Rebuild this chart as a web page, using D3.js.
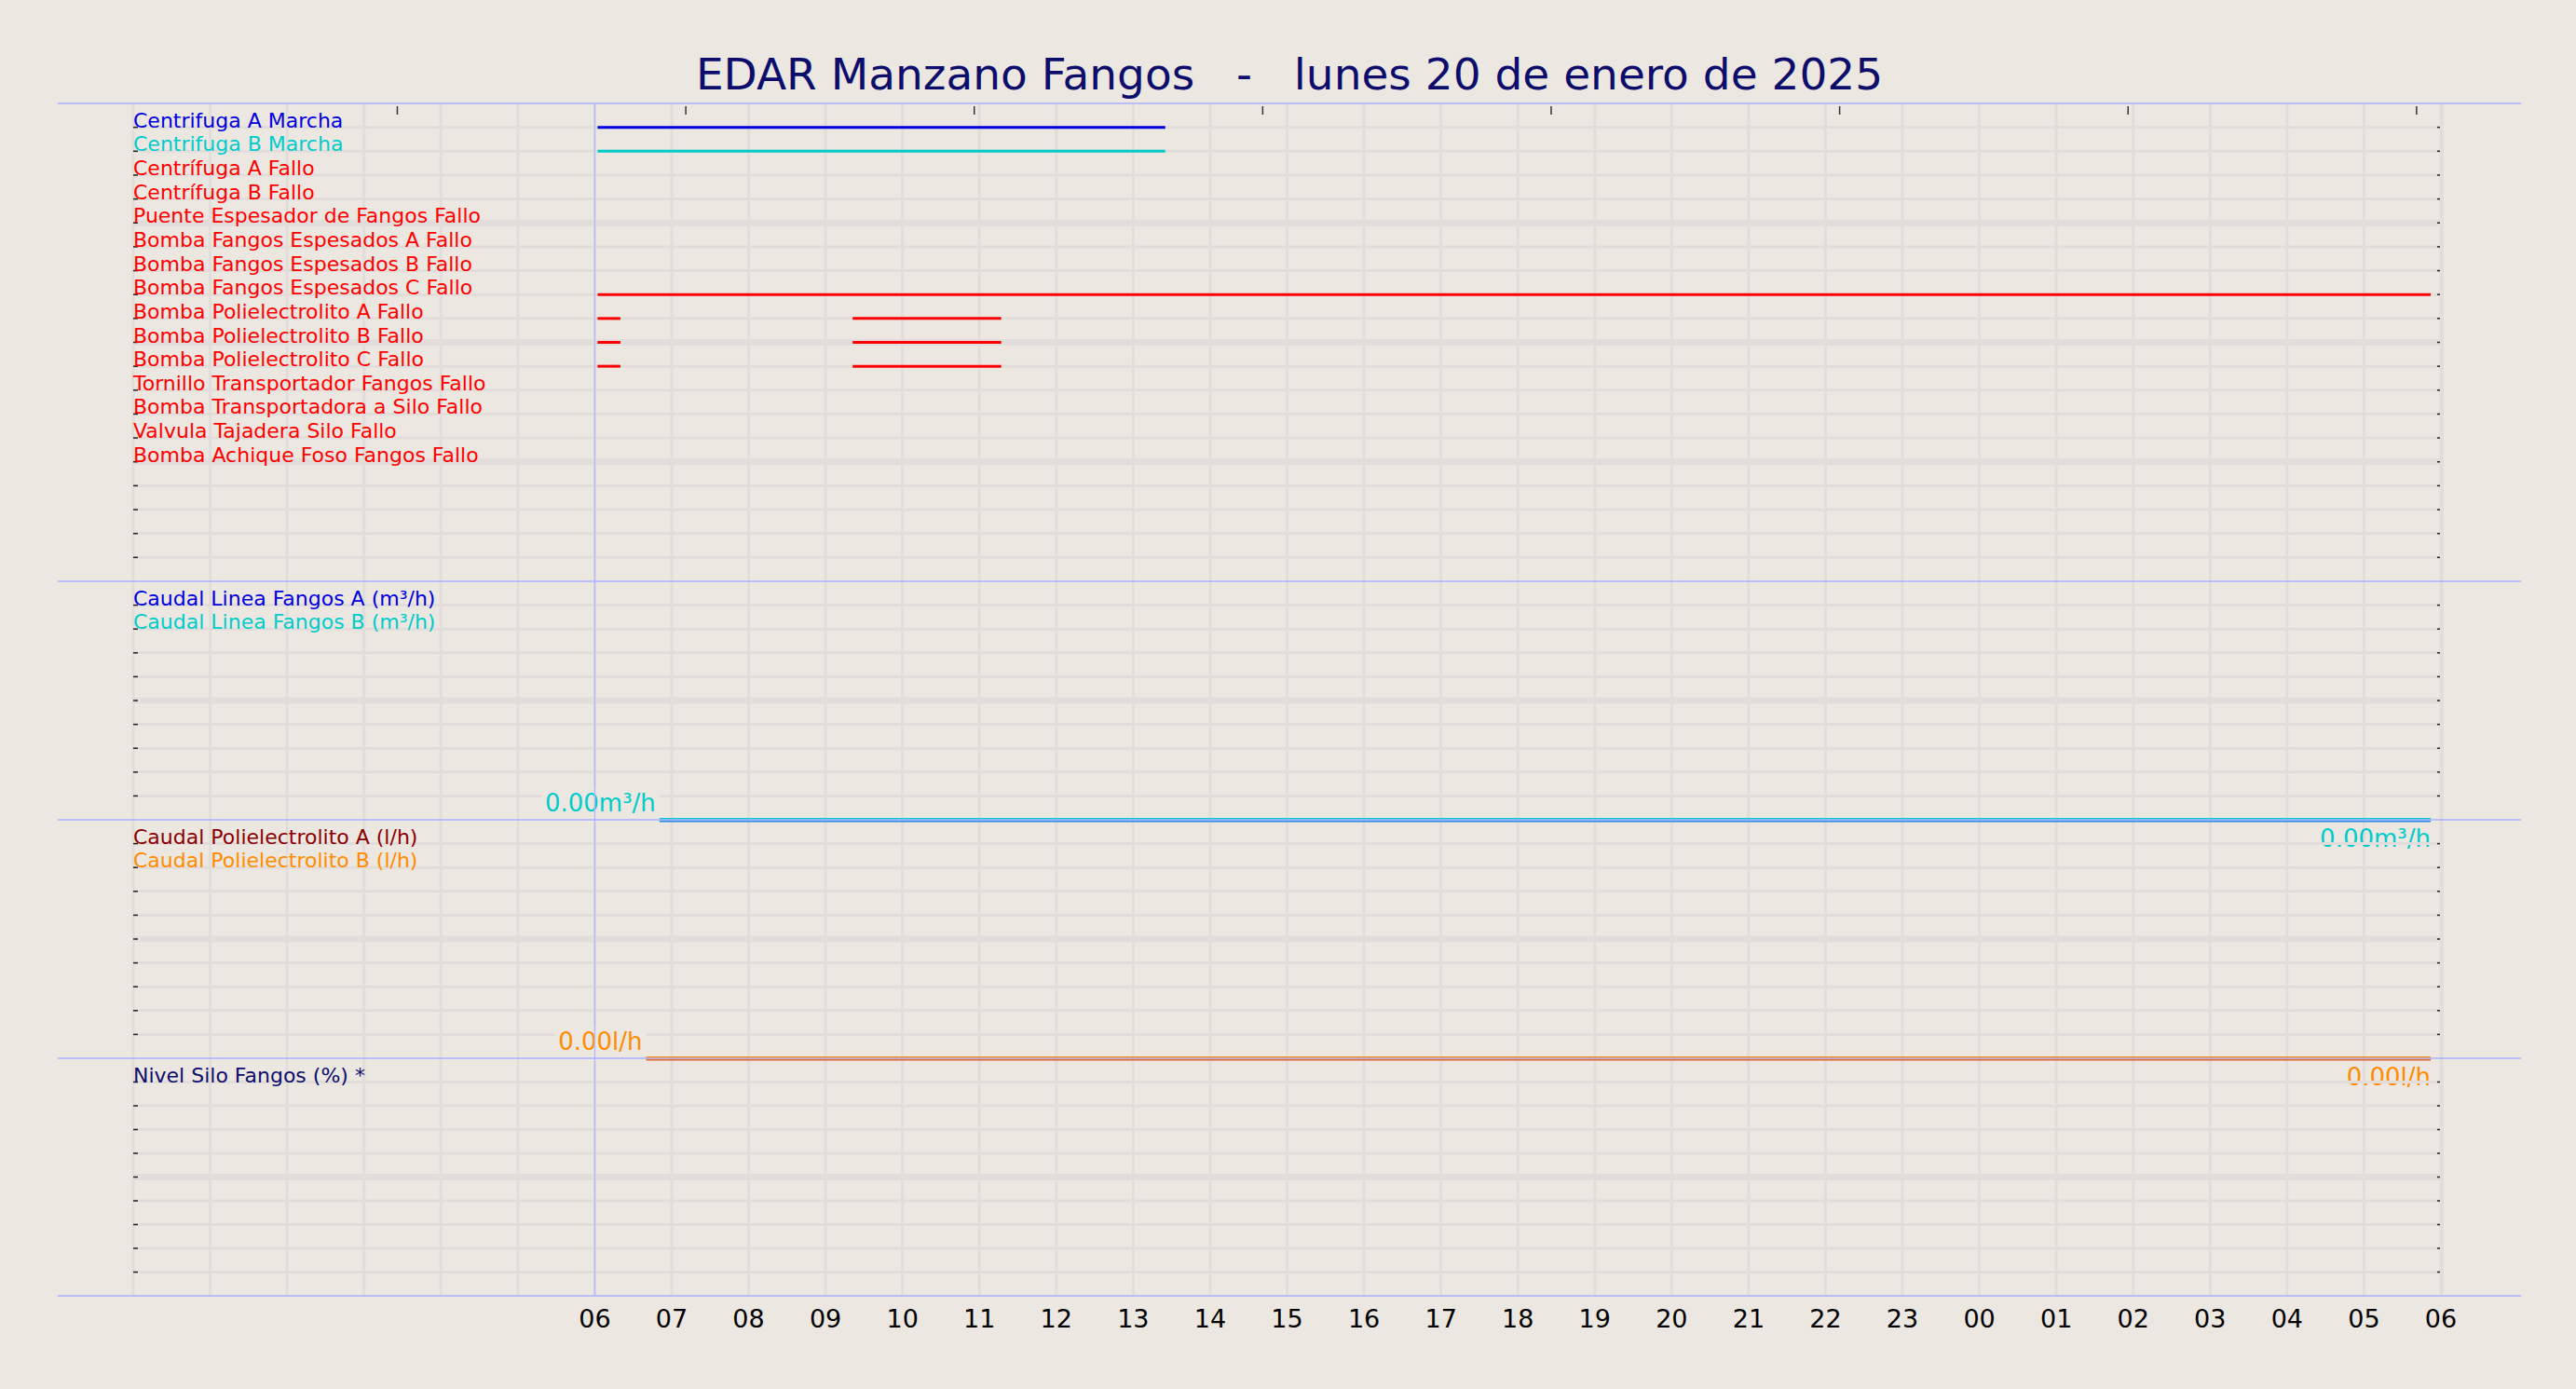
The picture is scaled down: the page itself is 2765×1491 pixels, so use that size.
<!DOCTYPE html>
<html><head><meta charset="utf-8">
<script src="https://cdn.jsdelivr.net/npm/d3@7"></script>
<style>body{margin:0;background:#ece7e1}svg{display:block;font-family:"DejaVu Sans",sans-serif}</style>
</head><body><svg id="c" width="2765" height="1491"></svg>
<script>
const title = "EDAR Manzano Fangos   -   lunes 20 de enero de 2025";
const digitalLabels = ["Centrifuga A Marcha","Centrifuga B Marcha","Centrífuga A Fallo","Centrífuga B Fallo","Puente Espesador de Fangos Fallo","Bomba Fangos Espesados A Fallo","Bomba Fangos Espesados B Fallo","Bomba Fangos Espesados C Fallo","Bomba Polielectrolito A Fallo","Bomba Polielectrolito B Fallo","Bomba Polielectrolito C Fallo","Tornillo Transportador Fangos Fallo","Bomba Transportadora a Silo Fallo","Valvula Tajadera Silo Fallo","Bomba Achique Foso Fangos Fallo"];
const digitalColors = ["#0000e0","#00cccc","#ff0000","#ff0000","#ff0000","#ff0000","#ff0000","#ff0000","#ff0000","#ff0000","#ff0000","#ff0000","#ff0000","#ff0000","#ff0000"];
// active intervals [row, start, end]
const digitalOn = [
 [0,"2025-01-20T06:00","2025-01-20T13:25"],
 [1,"2025-01-20T06:00","2025-01-20T13:25"],
 [7,"2025-01-20T06:00","2025-01-21T05:52"],
 [8,"2025-01-20T06:00","2025-01-20T06:20"],
 [8,"2025-01-20T09:19","2025-01-20T11:17"],
 [9,"2025-01-20T06:00","2025-01-20T06:20"],
 [9,"2025-01-20T09:19","2025-01-20T11:17"],
 [10,"2025-01-20T06:00","2025-01-20T06:20"],
 [10,"2025-01-20T09:19","2025-01-20T11:17"]];
const flowLabels = ["Caudal Linea Fangos A (m³/h)","Caudal Linea Fangos B (m³/h)"];
const flowColors = ["#0000e0","#00cccc"];
const flowTimes = ["2025-01-20T06:00","2025-01-21T05:52"];
const flowA = [0,0], flowB = [0,0];
const polyLabels = ["Caudal Polielectrolito A (l/h)","Caudal Polielectrolito B (l/h)"];
const polyColors = ["#8b0000","#ff8c00"];
const polyA = [0,0], polyB = [0,0];
const siloLabels = ["Nivel Silo Fangos (%) *"];
const topMarks = ["2025-01-20T03:26","2025-01-20T07:11","2025-01-20T10:56","2025-01-20T14:41","2025-01-20T18:26","2025-01-20T22:11","2025-01-21T01:56","2025-01-21T05:41"];

const P = d3.timeParse("%Y-%m-%dT%H:%M");
const svg = d3.select("#c");
const L=143, R=2620;
const x = d3.scaleTime().domain([P("2025-01-20T00:00"),P("2025-01-21T06:00")]).range([L,R]);
const bounds=[111,624,880,1136,1391];
const rowsN=[20,10,10,10];
const grid="#e2dddb";

svg.append("text").attr("x",1384).attr("y",96).attr("text-anchor","middle").attr("font-size",47).attr("fill","#0d0d6b").style("white-space","pre").text(title);

// vertical gridlines
const hours = d3.timeHour.every(1).range(x.domain()[0], d3.timeHour.offset(x.domain()[1],1));
svg.append("g").selectAll("line").data(hours).join("line")
 .attr("x1",d=>x(d)).attr("x2",d=>x(d)).attr("y1",bounds[0]).attr("y2",bounds[4])
 .attr("stroke",grid).attr("stroke-width",3);

const panels=[];
for(let p=0;p<4;p++){
  const y0=bounds[p], y1=bounds[p+1], n=rowsN[p], h=(y1-y0)/n;
  const g=svg.append("g");
  const ks=d3.range(1,n);
  g.selectAll("line.h").data(ks).join("line")
   .attr("x1",L).attr("x2",R).attr("y1",k=>y0+k*h).attr("y2",k=>y0+k*h)
   .attr("stroke",grid).attr("stroke-width",k=>k%5===0?7:3);
  g.selectAll("line.tl").data(ks).join("line").attr("x1",L).attr("x2",L+5).attr("y1",k=>y0+k*h).attr("y2",k=>y0+k*h).attr("stroke","#222").attr("stroke-width",1.5);
  g.selectAll("line.tr").data(ks).join("line").attr("x1",R-4).attr("x2",R+1).attr("y1",k=>y0+k*h).attr("y2",k=>y0+k*h).attr("stroke","#222").attr("stroke-width",1.5);
  panels.push({y0,y1,h,g,y:d3.scaleLinear().domain([0,100]).range([y1,y0])});
}
svg.append("line").attr("x1",R+1).attr("x2",R+1).attr("y1",bounds[0]).attr("y2",bounds[4]).attr("stroke",grid).attr("stroke-width",4);
svg.append("g").selectAll("line").data(bounds).join("line").attr("x1",62).attr("x2",2706).attr("y1",d=>d).attr("y2",d=>d).attr("stroke","#aab0ff").attr("stroke-width",1.5);
svg.append("line").attr("x1",x(P("2025-01-20T06:00"))).attr("x2",x(P("2025-01-20T06:00"))).attr("y1",bounds[0]).attr("y2",bounds[4]).attr("stroke","#b8b8ff").attr("stroke-width",1.5);
svg.append("g").selectAll("line").data(topMarks).join("line").attr("x1",d=>x(P(d))).attr("x2",d=>x(P(d))).attr("y1",114).attr("y2",123).attr("stroke","#333").attr("stroke-width",1.5);

function labels(p,arr,cols){
  const pp=panels[p];
  pp.g.selectAll("text.l").data(arr).join("text").attr("x",L).attr("y",(d,i)=>pp.y0+(i+1)*pp.h)
   .attr("font-size",22).attr("fill",(d,i)=>cols[i]).text(d=>d);
}
labels(0,digitalLabels,digitalColors);
const p0=panels[0];
svg.append("g").selectAll("line").data(digitalOn).join("line")
 .attr("x1",d=>x(P(d[1]))+3).attr("x2",d=>x(P(d[2]))).attr("y1",d=>p0.y0+(d[0]+1)*p0.h).attr("y2",d=>p0.y0+(d[0]+1)*p0.h)
 .attr("stroke",d=>digitalColors[d[0]]).attr("stroke-width",3);

labels(1,flowLabels,flowColors);
labels(2,polyLabels,polyColors);
labels(3,siloLabels,["#0d0d6b"]);

function analog(p,series,cols,lab,labCol){
  const pp=panels[p];
  const line=d3.line().x((d,i)=>x(P(flowTimes[i]))).y(d=>pp.y(d));
  series.forEach((s,j)=>{
    pp.g.append("path").attr("d",line(s)).attr("fill","none").attr("stroke",cols[j]).attr("stroke-width",2).attr("transform",`translate(0,${j===0?1.5:-1})`);
  });
  const cx=x(P(flowTimes[0]));
  const t=pp.g.append("text").attr("x",cx+6).attr("y",pp.y1-9).attr("text-anchor","middle").attr("font-size",26).attr("fill",labCol).text(lab);
  const bb=t.node().getBBox();
  pp.g.insert("rect","text:last-child").attr("x",bb.x-4).attr("y",bb.y-2).attr("width",bb.width+8).attr("height",bb.height+8).attr("fill","#ece7e1");
  pp.g.append("text").attr("x",x(P(flowTimes[1]))).attr("y",pp.y1+29).attr("text-anchor","end").attr("font-size",26).attr("fill",labCol).text(lab);
}
analog(1,[flowA,flowB],["#2a8be8","#00cccc"],"0.00m³/h","#00cccc");
analog(2,[polyA,polyB],["#e86a2a","#ff8c00"],"0.00l/h","#ff8c00");

const ticks=d3.timeHour.every(1).range(P("2025-01-20T06:00"),d3.timeHour.offset(x.domain()[1],1));
svg.append("g").selectAll("text").data(ticks).join("text").attr("x",d=>x(d)).attr("y",1425).attr("text-anchor","middle").attr("font-size",27).attr("fill","#000").text(d3.timeFormat("%H"));
</script></body></html>
